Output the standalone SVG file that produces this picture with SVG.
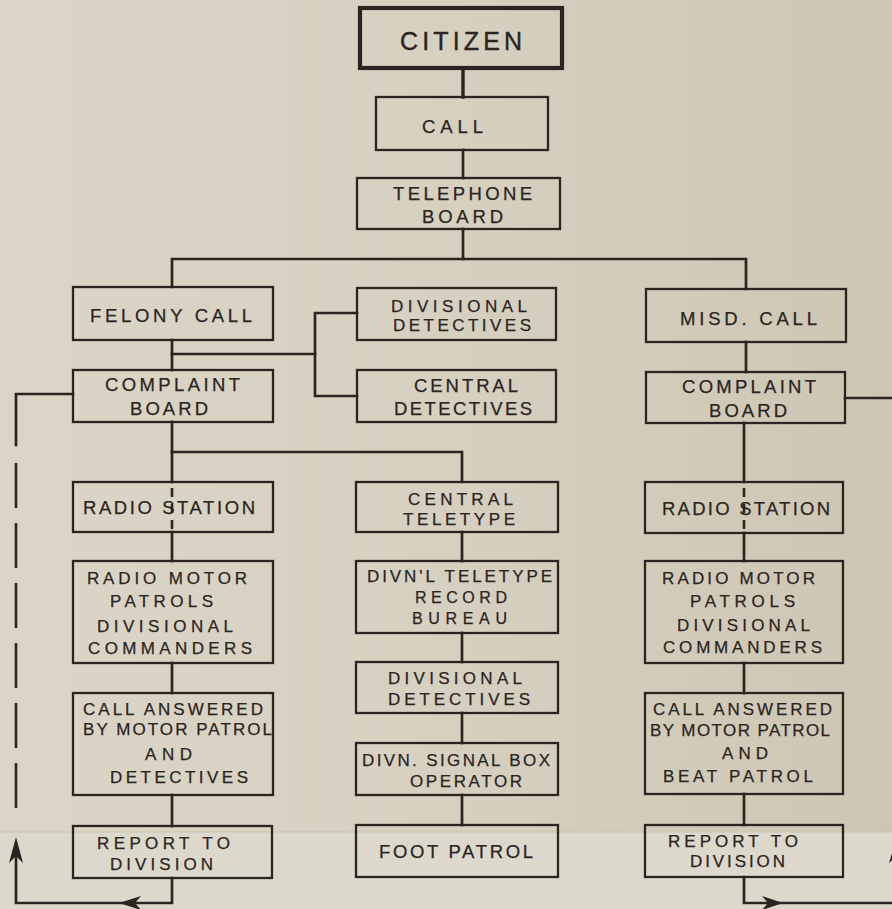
<svg xmlns="http://www.w3.org/2000/svg" width="892" height="909" viewBox="0 0 892 909">
<defs>
<linearGradient id="bg" x1="0" y1="0" x2="1" y2="0">
<stop offset="0" stop-color="#dbd5c7"/>
<stop offset="0.5" stop-color="#d6d0c1"/>
<stop offset="1" stop-color="#cdc6b4"/>
</linearGradient>
<style>
.box{fill:none;stroke:#2b2420;stroke-width:2.3}
.thick{stroke-width:4.2}
.ln{fill:none;stroke:#2b2420;stroke-width:2.7;stroke-linecap:square}
.dash{fill:none;stroke:#2b2420;stroke-width:2.6;stroke-dasharray:45 15}
.dsh2{fill:none;stroke:#2b2420;stroke-width:2.6;stroke-dasharray:9 7}
.ah{fill:#2b2420}
text{font-family:"Liberation Sans","DejaVu Sans",sans-serif;font-size:18.5px;fill:#2b2420;text-anchor:middle;stroke:#2b2420;stroke-width:0.25}
.big{font-size:25px;stroke-width:0.4}
.sm{font-size:17px}
.xs{font-size:16px}
</style>
</defs>
<rect x="0" y="0" width="892" height="909" fill="url(#bg)"/>
<rect x="0" y="832" width="892" height="77" fill="#ddd8cc"/>
<line x1="0" y1="832" x2="892" y2="832" stroke="#c9c3b5" stroke-width="1"/>

<g id="connectors">
<path class="ln" d="M463,68 V97" style="stroke-width:3.4"/>
<path class="ln" d="M463,150 V178"/>
<path class="ln" d="M463,229 V259"/>
<path class="ln" d="M172,287 V259 H746 V289"/>
<path class="ln" d="M172,340 V370"/>
<path class="ln" d="M172,354 H315"/>
<path class="ln" d="M357,313 H315 V396 H357"/>
<path class="ln" d="M172,422 V482"/>
<path class="ln" d="M172,452 H462 V482"/>
<path class="dsh2" d="M172,488 V532"/>
<path class="ln" d="M172,532 V561"/>
<path class="ln" d="M172,663 V693"/>
<path class="ln" d="M172,795 V826"/>
<path class="ln" d="M462,532 V561"/>
<path class="ln" d="M462,633 V662"/>
<path class="ln" d="M462,713 V743"/>
<path class="ln" d="M462,795 V825"/>
<path class="ln" d="M746,342 V372"/>
<path class="ln" d="M744,423 V482"/>
<path class="dsh2" d="M744,488 V533"/>
<path class="ln" d="M744,533 V561"/>
<path class="ln" d="M744,663 V693"/>
<path class="ln" d="M744,794 V825"/>
<!-- left feedback loop -->
<path class="ln" d="M73,394 H16 V445"/>
<path class="dash" d="M16,463 V810"/>
<path class="ln" d="M16,845 V903 H172 V878"/>
<path class="ah" d="M16,837 L9,863 L16,856 L23,863 Z"/>
<path class="ah" d="M119,903 L141,896 L135,903 L141,910 Z"/>
<!-- right feedback loop -->
<path class="ln" d="M845,398 H897"/>
<path class="ln" d="M744,877 V903 H897 V845"/>
<path class="ah" d="M783,903 L762,896 L768,903 L762,910 Z"/>
<path class="ah" d="M897,837 L889,863 L897,856 L905,863 Z"/>
</g>

<g id="citizen"><rect class="box thick" x="360" y="8" width="202" height="60"/><text class="big" x="461" y="50" textLength="122">CITIZEN</text></g>
<g id="call"><rect class="box" x="376" y="97" width="172" height="53"/><text x="452.5" y="133" textLength="61">CALL</text></g>
<g id="telephone-board"><rect class="box" x="357" y="178" width="203" height="51"/><text x="462.5" y="200" textLength="139">TELEPHONE</text><text x="462.5" y="223" textLength="81">BOARD</text></g>

<g id="felony-call"><rect class="box" x="73" y="287" width="200" height="53"/><text x="171" y="322" textLength="162">FELONY CALL</text></g>
<g id="divisional-detectives-top"><rect class="box" x="357" y="288" width="199" height="52"/><text class="sm" x="459" y="312" textLength="136">DIVISIONAL</text><text class="sm" x="462" y="331" textLength="138">DETECTIVES</text></g>
<g id="central-detectives"><rect class="box" x="357" y="370" width="199" height="52"/><text x="466" y="392" textLength="104">CENTRAL</text><text x="463" y="415" textLength="138">DETECTIVES</text></g>
<g id="misd-call"><rect class="box" x="646" y="289" width="200" height="53"/><text x="748.5" y="325" textLength="137">MISD. CALL</text></g>

<g id="complaint-board-left"><rect class="box" x="73" y="370" width="200" height="52"/><text x="172.5" y="391" textLength="135">COMPLAINT</text><text x="169" y="415" textLength="78">BOARD</text></g>
<g id="complaint-board-right"><rect class="box" x="646" y="372" width="199" height="51"/><text x="749" y="393" textLength="134">COMPLAINT</text><text x="748" y="417" textLength="78">BOARD</text></g>

<g id="radio-station-left"><rect class="box" x="73" y="482" width="200" height="50"/><text x="169" y="514" textLength="172">RADIO STATION</text></g>
<g id="radio-motor-left"><rect class="box" x="73" y="561" width="200" height="102"/><text class="sm" x="167" y="584" textLength="160">RADIO MOTOR</text><text class="sm" x="161.5" y="607" textLength="103">PATROLS</text><text class="sm" x="165" y="632" textLength="136">DIVISIONAL</text><text class="sm" x="170" y="654" textLength="164">COMMANDERS</text></g>
<g id="call-answered-left"><rect class="box" x="73" y="693" width="200" height="102"/><text class="sm" x="173" y="715" textLength="180">CALL ANSWERED</text><text class="sm" x="177.5" y="735" textLength="189">BY MOTOR PATROL</text><text class="sm" x="168.5" y="760" textLength="47">AND</text><text class="sm" x="179" y="783" textLength="138">DETECTIVES</text></g>
<g id="report-left"><rect class="box" x="73" y="826" width="199" height="52"/><text class="sm" x="163.5" y="849" textLength="133">REPORT TO</text><text class="sm" x="161.5" y="870" textLength="103">DIVISION</text></g>

<g id="central-teletype"><rect class="box" x="356" y="482" width="202" height="50"/><text class="sm" x="460.5" y="505" textLength="105">CENTRAL</text><text class="sm" x="459" y="525" textLength="112">TELETYPE</text></g>
<g id="divnl-teletype"><rect class="box" x="356" y="561" width="202" height="72"/><text class="sm" x="459.5" y="582" textLength="185">DIVN'L TELETYPE</text><text class="xs" x="461" y="603" textLength="92">RECORD</text><text class="xs" x="459.5" y="624" textLength="95">BUREAU</text></g>
<g id="divisional-detectives-mid"><rect class="box" x="356" y="662" width="202" height="51"/><text class="sm" x="455" y="684" textLength="134">DIVISIONAL</text><text class="sm" x="459" y="705" textLength="142">DETECTIVES</text></g>
<g id="signal-box"><rect class="box" x="356" y="743" width="202" height="52"/><text class="sm" x="456" y="766" textLength="188">DIVN. SIGNAL BOX</text><text class="sm" x="466" y="787" textLength="112">OPERATOR</text></g>
<g id="foot-patrol"><rect class="box" x="356" y="825" width="202" height="52"/><text x="456" y="858" textLength="154">FOOT PATROL</text></g>

<g id="radio-station-right"><rect class="box" x="645" y="482" width="198" height="51"/><text x="746" y="515" textLength="168">RADIO STATION</text></g>
<g id="radio-motor-right"><rect class="box" x="645" y="561" width="198" height="102"/><text class="sm" x="738.5" y="584" textLength="153">RADIO MOTOR</text><text class="sm" x="742.5" y="607" textLength="105">PATROLS</text><text class="sm" x="743.5" y="631" textLength="133">DIVISIONAL</text><text class="sm" x="742.5" y="653" textLength="159">COMMANDERS</text></g>
<g id="call-answered-right"><rect class="box" x="645" y="693" width="198" height="101"/><text class="sm" x="742.5" y="715" textLength="179">CALL ANSWERED</text><text class="sm" x="740" y="736" textLength="180">BY MOTOR PATROL</text><text class="sm" x="745" y="759" textLength="46">AND</text><text class="sm" x="738" y="782" textLength="150">BEAT PATROL</text></g>
<g id="report-right"><rect class="box" x="645" y="825" width="198" height="52"/><text class="sm" x="733" y="847" textLength="130">REPORT TO</text><text class="sm" x="737.5" y="867" textLength="95">DIVISION</text></g>
</svg>
